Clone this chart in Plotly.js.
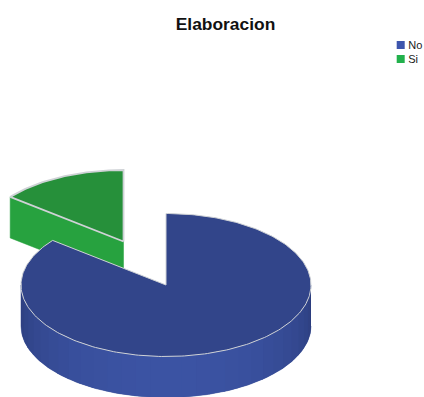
<!DOCTYPE html>
<html>
<head>
<meta charset="utf-8">
<script src="https://cdn.plot.ly/plotly-3.0.1.min.js"></script>
<style>html,body{margin:0;padding:0;background:#fff;overflow:hidden}#chart{width:424px;height:397px}</style>
</head>
<body>
<div id="chart"></div>
<script>
// Category shares for the 3D pie
const categories = ['No', 'Si'];
const seriesValues = [6, 1];
const explode = [0, 0.675];

// Colours per category
const topColors = ['#32458a', '#26903a'];
const faceColors = ['#3b53a3', '#27a23f'];
const swatchColors = ['#3d55ad', '#22b14c'];
const edgeColor = '#cfd2d6';

// Projection of the pie onto the plot coordinates
const pie = {cx: 166, cy: 285, rx: 145, ry: 71.5, depth: 41};

const total = seriesValues.reduce((a, b) => a + b, 0);
const TWO_PI = Math.PI * 2;

function rim(c, a) {
  return [c.x + pie.rx * Math.sin(a), c.y - pie.ry * Math.cos(a)];
}
function arc(c, a0, a1, step) {
  const n = Math.max(2, Math.ceil(Math.abs(a1 - a0) / step));
  const pts = [];
  for (let i = 0; i <= n; i++) pts.push(rim(c, a0 + (a1 - a0) * i / n));
  return pts;
}
function poly(pts, fill, line, width) {
  return {
    type: 'scatter', mode: 'lines',
    x: pts.map(p => p[0]), y: pts.map(p => p[1]),
    fill: 'toself', fillcolor: fill,
    line: {color: line, width: width},
    hoverinfo: 'skip', showlegend: false
  };
}
function mix(a, b, t) {
  const pa = [1, 3, 5].map(i => parseInt(a.substr(i, 2), 16));
  const pb = [1, 3, 5].map(i => parseInt(b.substr(i, 2), 16));
  return 'rgb(' + pa.map((v, i) => Math.round(v + (pb[i] - v) * t)).join(',') + ')';
}

const back = [], front = [];
let cumulative = 0;
categories.forEach((name, i) => {
  const a0 = cumulative / total * TWO_PI;
  cumulative += seriesValues[i];
  const a1 = cumulative / total * TWO_PI;
  const mid = (a0 + a1) / 2;
  const c = {
    x: pie.cx + explode[i] * pie.rx * Math.sin(mid),
    y: pie.cy - explode[i] * pie.ry * Math.cos(mid)
  };
  const layer = i === 0 ? front : back;

  // Outer wall: a solid base, then overlapping shaded strips across the front half
  const wallStart = Math.max(a0, Math.PI / 2);
  const wallEnd = Math.min(a1, Math.PI * 1.5);
  const strips = 30;
  if (wallEnd > wallStart) {
    const wall = (from, to) => {
      const top = arc(c, from, to, 0.02);
      return top.concat(top.map(p => [p[0], p[1] + pie.depth]).reverse());
    };
    layer.push(poly(wall(wallStart, wallEnd), mix('#2b3c7a', faceColors[i], 0.6), mix('#2b3c7a', faceColors[i], 0.6), 0.5));
    for (let s = 0; s < strips; s++) {
      const b0 = wallStart + (wallEnd - wallStart) * s / strips;
      const b1 = wallStart + (wallEnd - wallStart) * (s + 1) / strips;
      const shade = mix('#2b3c7a', faceColors[i], Math.pow(Math.sin((b0 + b1) / 2 - Math.PI / 2), 0.8));
      layer.push(poly(wall(b0, Math.min(b1 + 0.012, wallEnd)), shade, shade, 0));
    }
  }

  // Cut face that turns toward the viewer on a separated slice
  if (explode[i] > 0) {
    const p = rim(c, a0);
    const apex = [c.x, c.y];
    layer.push(poly([p, apex, [apex[0], apex[1] + pie.depth], [p[0], p[1] + pie.depth], p],
      faceColors[i], faceColors[i], 0.5));
  }

  // Top surface
  const outline = [[c.x, c.y]].concat(arc(c, a0, a1, 0.02), [[c.x, c.y]]);
  layer.push(poly(outline, topColors[i], edgeColor, i === 0 ? 1 : 1.8));
});

// Key in the upper right corner
const legendX = categories.map(() => 400.7);
const legendY = [45, 59];
const keyTrace = {
  type: 'scatter', mode: 'markers',
  x: legendX, y: legendY,
  marker: {symbol: 'square', size: 8, color: swatchColors},
  hoverinfo: 'skip', showlegend: false
};
const keyLabels = {
  type: 'scatter', mode: 'text',
  x: legendX.map(v => v + 7.5), y: legendY.map(v => v + 1.5),
  text: categories, textposition: 'middle right',
  textfont: {family: 'Liberation Sans, Arial, sans-serif', size: 11, color: '#1a1a1a'},
  hoverinfo: 'skip', showlegend: false
};

Plotly.newPlot('chart', back.concat(front, [keyTrace, keyLabels]), {
  width: 424, height: 397,
  margin: {l: 0, r: 0, t: 0, b: 0},
  paper_bgcolor: '#fff', plot_bgcolor: '#fff',
  showlegend: false,
  title: {
    text: '<b>Elaboracion</b>',
    font: {family: 'Liberation Sans, Arial, sans-serif', size: 17.4, color: '#111'},
    x: 225.5 / 424, xanchor: 'center', xref: 'paper',
    y: 1 - 24 / 397, yanchor: 'middle', yref: 'paper'
  },
  xaxis: {range: [0, 424], visible: false, fixedrange: true},
  yaxis: {range: [397, 0], visible: false, fixedrange: true}
}, {displayModeBar: false, staticPlot: true});
</script>
</body>
</html>
